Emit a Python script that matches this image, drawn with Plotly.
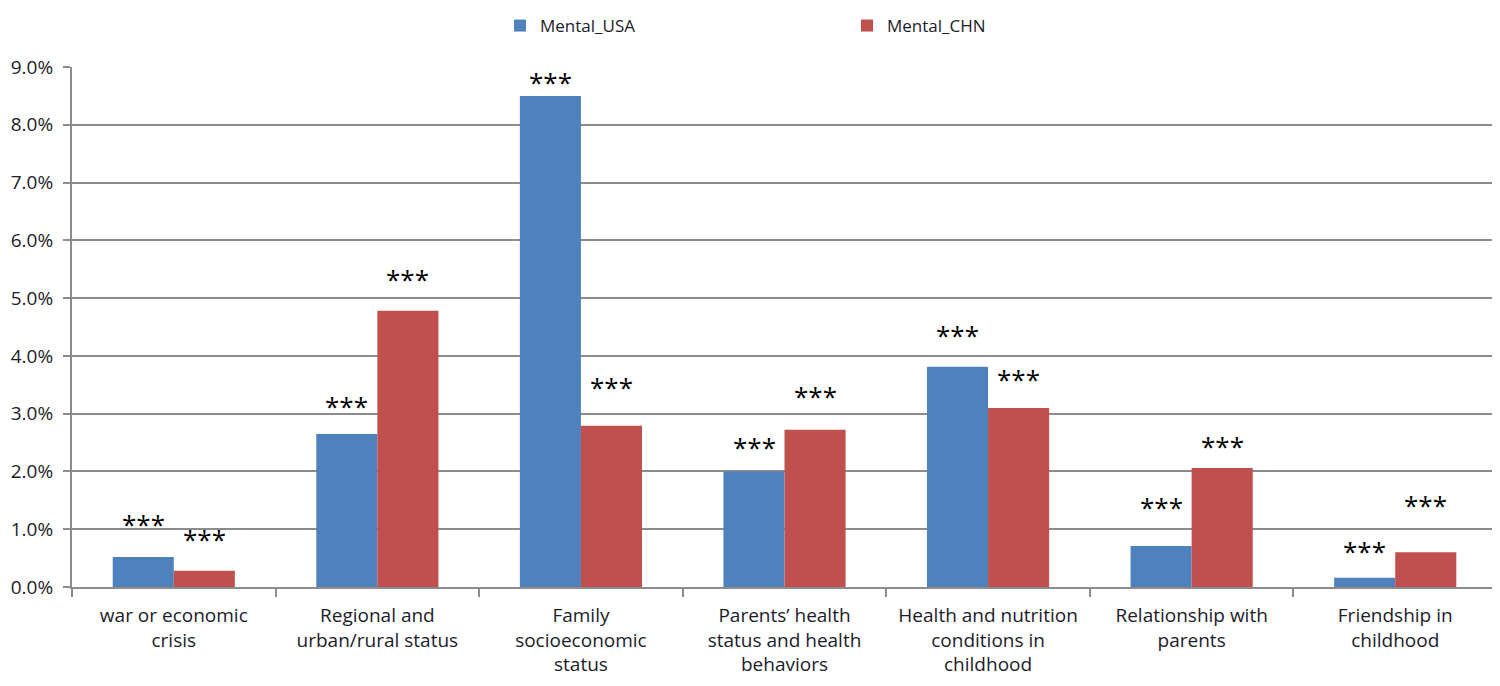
import plotly.graph_objects as go

categories = [
    "war or economic<br>crisis",
    "Regional and<br>urban/rural status",
    "Family<br>socioeconomic<br>status",
    "Parents\u2019 health<br>status and health<br>behaviors",
    "Health and nutrition<br>conditions in<br>childhood",
    "Relationship with<br>parents",
    "Friendship in<br>childhood",
]
mental_usa = [0.0052, 0.0265, 0.0850, 0.0200, 0.0381, 0.0071, 0.0016]
mental_chn = [0.0028, 0.0478, 0.0279, 0.0272, 0.0310, 0.0206, 0.0060]
sig_usa = ["***"] * 7
sig_chn = ["***"] * 7

# pixel offsets of the significance marks above bar tops (style only)
star_off_usa = [36, 31, 17, 27, 35, 42, 30]
star_off_chn = [35, 35, 42, 37, 32, 25, 50]

BLUE = "#4F81BD"
RED = "#C0504D"
FONT = "Open Sans"
TXT = "#1c1c2a"
GRID = "#8c8c8c"

fig = go.Figure()
fig.add_trace(go.Bar(name="Mental_USA", x=categories, y=mental_usa,
                     marker=dict(color=BLUE, line=dict(width=0))))
fig.add_trace(go.Bar(name="Mental_CHN", x=categories, y=mental_chn,
                     marker=dict(color=RED, line=dict(width=0))))

half_bar = 30.5
star_font = dict(family=FONT, size=26, color="#000")
ann = []
for c, v, s, d in zip(categories, mental_usa, sig_usa, star_off_usa):
    ann.append(dict(x=c, y=v, text=s, showarrow=False, xref="x", yref="y",
                    xshift=-half_bar, yanchor="middle", yshift=d - 3,
                    font=star_font))
for c, v, s, d in zip(categories, mental_chn, sig_chn, star_off_chn):
    ann.append(dict(x=c, y=v, text=s, showarrow=False, xref="x", yref="y",
                    xshift=half_bar, yanchor="middle", yshift=d - 3,
                    font=star_font))

fig.update_layout(
    width=1500, height=686,
    margin=dict(l=64, r=11, t=59, b=107, autoexpand=False),
    paper_bgcolor="white", plot_bgcolor="white",
    barmode="group", bargap=0.4, bargroupgap=0,
    font=dict(family=FONT, size=19, color=TXT),
    annotations=ann,
    legend=dict(orientation="h", x=492 / 1500, xref="container", xanchor="left",
                y=1, yref="container", yanchor="top",
                entrywidth=302, entrywidthmode="pixels",
                font=dict(family=FONT, size=17, color=TXT),
                bgcolor="rgba(0,0,0,0)", itemclick=False),
    showlegend=True,
)
fig.update_xaxes(
    type="category", tickson="boundaries", ticks="outside", ticklen=8,
    tickcolor=GRID, tickwidth=2, showline=True, linecolor=GRID, linewidth=2,
    showgrid=False, automargin=False, ticklabelstandoff=10,
    tickfont=dict(family=FONT, size=19, color=TXT),
)
fig.update_yaxes(
    range=[0, 0.09], dtick=0.01, tickformat=".1%", ticks="outside", ticklen=7,
    tickcolor=GRID, tickwidth=2, showline=True, linecolor=GRID, linewidth=2,
    showgrid=True, gridcolor=GRID, gridwidth=1.5, zeroline=False, automargin=False,
    ticklabelstandoff=6,
    tickfont=dict(family=FONT, size=19, color=TXT),
)

fig.write_html("out.html")
